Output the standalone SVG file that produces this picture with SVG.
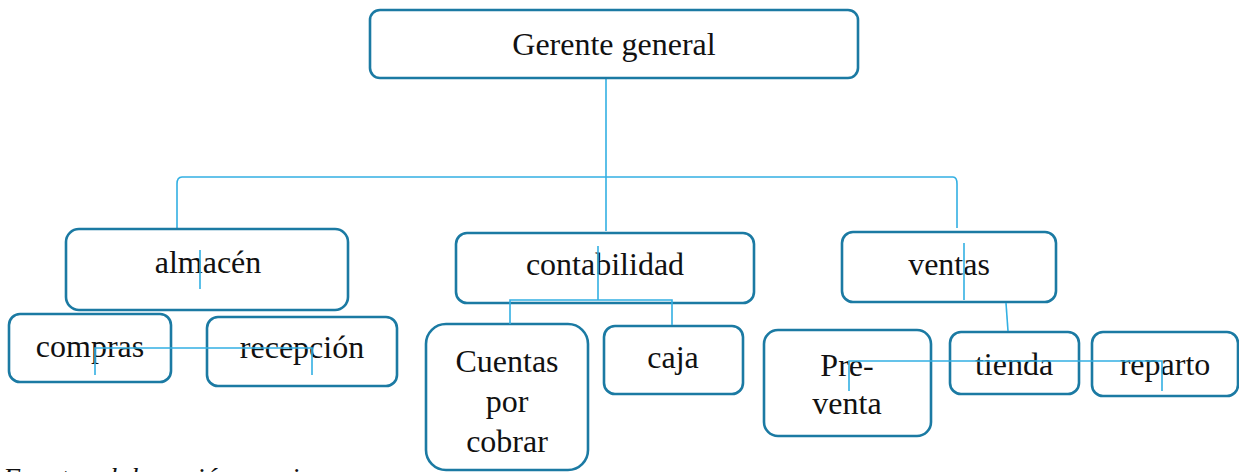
<svg xmlns="http://www.w3.org/2000/svg" width="1239" height="472" viewBox="0 0 1239 472">
<style>
.box{fill:#ffffff;stroke:#1b7aa3;stroke-width:2.6}
.t{font-family:"Liberation Serif","Times New Roman",serif;font-size:32px;fill:#111;text-anchor:middle}
.c{fill:none;stroke:#33b0e3;stroke-width:1.6}
.cap{font-family:"Liberation Serif","Times New Roman",serif;font-size:28px;font-style:italic;fill:#111}
</style>
<rect width="1239" height="472" fill="#ffffff"/>
<g id="connectors">
<path class="c" d="M606 78 V231"/>
<path class="c" d="M177 228 V184 Q177 177 182 177 H953 Q957 177 957 184 V228"/>
</g>
<g id="gerente"><rect class="box" x="370" y="10" width="488" height="68" rx="10"/><text class="t" x="614" y="55">Gerente general</text></g>
<g id="almacen"><rect class="box" x="66" y="229" width="282" height="81" rx="13"/><text class="t" x="208" y="273">almacén</text></g>
<g id="contabilidad"><rect class="box" x="456" y="233" width="298" height="70" rx="11"/><text class="t" x="605" y="275">contabilidad</text></g>
<g id="ventas"><rect class="box" x="842" y="232" width="214" height="70" rx="11"/><text class="t" x="949" y="275">ventas</text></g>
<g id="compras"><rect class="box" x="9" y="314" width="162" height="68" rx="11"/><text class="t" x="90" y="357">compras</text></g>
<g id="recepcion"><rect class="box" x="207" y="317" width="190" height="69" rx="11"/><text class="t" x="302" y="358">recepción</text></g>
<g id="cuentas"><rect class="box" x="426" y="324" width="162" height="146" rx="20"/><text class="t" x="507" y="372">Cuentas</text><text class="t" x="507" y="412">por</text><text class="t" x="507" y="452">cobrar</text></g>
<g id="caja"><rect class="box" x="604" y="326" width="139" height="68" rx="11"/><text class="t" x="673" y="368">caja</text></g>
<g id="preventa"><rect class="box" x="764" y="330" width="167" height="106" rx="14"/><text class="t" x="847" y="376">Pre-</text><text class="t" x="847" y="414">venta</text></g>
<g id="tienda"><rect class="box" x="950" y="332" width="129" height="62" rx="11"/><text class="t" x="1014" y="375">tienda</text></g>
<g id="reparto"><rect class="box" x="1092" y="332" width="146" height="64" rx="11"/><text class="t" x="1165" y="375">reparto</text></g>
<g id="overlay-connectors">
<path class="c" d="M200 250 V289"/>
<path class="c" d="M95 375 V348 H312 V375"/>
<path class="c" d="M598 246 V300"/>
<path class="c" d="M510 324 V300 H672 V325"/>
<path class="c" d="M964 243 V300"/>
<path class="c" d="M1006 303 L1008 331"/>
<path class="c" d="M849 391 V361 H1162 V391"/>
</g>
<text class="cap" x="3" y="487">Fuente: elaboración propia</text>
</svg>
